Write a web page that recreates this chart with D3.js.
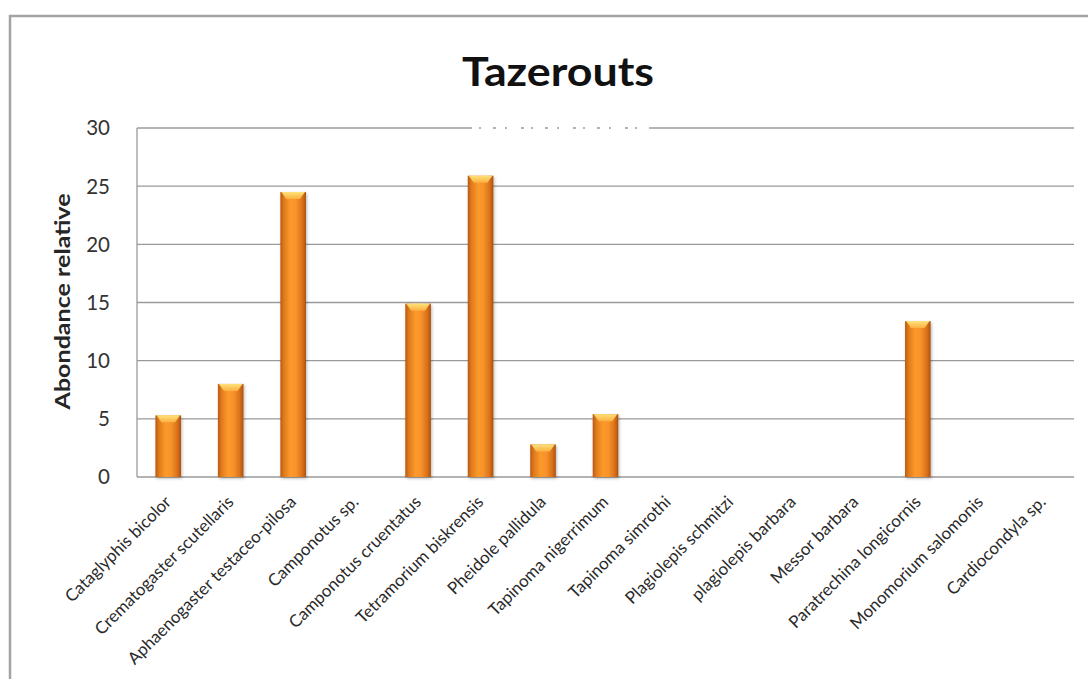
<!DOCTYPE html>
<html>
<head>
<meta charset="utf-8">
<script src="https://cdn.jsdelivr.net/npm/d3@7/dist/d3.min.js"></script>
<style>
  html, body { margin: 0; padding: 0; background: #fff; }
  svg { display: block; }
</style>
</head>
<body>
<svg id="chart" width="1088" height="679"></svg>
<script>
// Species recorded at Tazerouts and their relative abundance (%)
const species = [
  "Cataglyphis bicolor",
  "Crematogaster scutellaris",
  "Aphaenogaster testaceo-pilosa",
  "Camponotus sp.",
  "Camponotus cruentatus",
  "Tetramorium biskrensis",
  "Pheidole pallidula",
  "Tapinoma nigerrimum",
  "Tapinoma simrothi",
  "Plagiolepis schmitzi",
  "plagiolepis barbara",
  "Messor barbara",
  "Paratrechina longicornis",
  "Monomorium salomonis",
  "Cardiocondyla sp."
];
const abundance = [5.3, 8.0, 24.5, 0, 14.9, 25.9, 2.8, 5.4, 0, 0, 0, 0, 13.4, 0, 0];
const yTicks = [0, 5, 10, 15, 20, 25, 30];
const chartTitle = "Tazerouts";
const yTitle = "Abondance relative";

const svg = d3.select("#chart");
const W = 1088, H = 679;
const plot = { left: 137, right: 1074, top: 128, bottom: 477 };
const font = "Lato, 'Open Sans', sans-serif";

// Outer chart frame (top and left edges visible)
svg.append("path")
  .attr("d", `M10,${H} L10,16 L${W},16`)
  .attr("fill", "none")
  .attr("stroke", "#a3a3a3")
  .attr("stroke-width", 2.5);

const x = d3.scaleBand()
  .domain(species)
  .range([plot.left, plot.right])
  .paddingInner(0.59)
  .paddingOuter(0.295);

const y = d3.scaleLinear()
  .domain([0, 30])
  .range([plot.bottom, plot.top]);

// Gradients for the bevelled bars
const defs = svg.append("defs");
const g1 = defs.append("linearGradient").attr("id", "barFill")
  .attr("x1", "0").attr("x2", "1").attr("y1", "0").attr("y2", "0");
[["0%", "#b85a14"], ["14%", "#e07a1c"], ["40%", "#fb9a2c"], ["62%", "#f7922a"], ["86%", "#d9701a"], ["100%", "#a9520f"]]
  .forEach(([o, c]) => g1.append("stop").attr("offset", o).attr("stop-color", c));
const g2 = defs.append("linearGradient").attr("id", "capFill")
  .attr("x1", "0").attr("x2", "0").attr("y1", "0").attr("y2", "1");
[["0%", "#ffe27a"], ["100%", "#fbb040"]]
  .forEach(([o, c]) => g2.append("stop").attr("offset", o).attr("stop-color", c));
const shadow = defs.append("filter").attr("id", "shadow")
  .attr("x", "-30%").attr("y", "-10%").attr("width", "160%").attr("height", "130%");
shadow.append("feDropShadow").attr("dx", 1).attr("dy", 1.5)
  .attr("stdDeviation", 1.6).attr("flood-color", "#000").attr("flood-opacity", 0.28);

// Horizontal gridlines
svg.append("g")
  .selectAll("line")
  .data(yTicks.filter(d => d > 0))
  .join("line")
  .attr("x1", plot.left).attr("x2", plot.right)
  .attr("y1", d => y(d)).attr("y2", d => y(d))
  .attr("stroke", "#9a9a9a")
  .attr("stroke-width", 1.3);

// Faint broken patch on the top gridline
svg.append("line")
  .attr("x1", 472).attr("x2", 650)
  .attr("y1", y(30)).attr("y2", y(30))
  .attr("stroke", "#fff")
  .attr("stroke-width", 2.5)
  .attr("stroke-dasharray", "7,2,12,3,9,2,14,3");

// Axis lines
svg.append("line")
  .attr("x1", plot.left).attr("x2", plot.left)
  .attr("y1", plot.top).attr("y2", plot.bottom)
  .attr("stroke", "#9a9a9a").attr("stroke-width", 1.3);
svg.append("line")
  .attr("x1", plot.left).attr("x2", plot.right)
  .attr("y1", plot.bottom).attr("y2", plot.bottom)
  .attr("stroke", "#9a9a9a").attr("stroke-width", 1.3);

// Bars
const bars = svg.append("g")
  .selectAll("g")
  .data(species.map((s, i) => ({ s, v: abundance[i] })).filter(d => d.v > 0))
  .join("g");

bars.append("rect")
  .attr("x", d => x(d.s))
  .attr("y", d => y(d.v))
  .attr("width", x.bandwidth())
  .attr("height", d => y(0) - y(d.v))
  .attr("fill", "url(#barFill)")
  .attr("filter", "url(#shadow)");

// Bevelled top cap of each bar
bars.append("path")
  .attr("d", d => {
    const x0 = x(d.s), w = x.bandwidth(), t = y(d.v);
    return `M${x0 + 1},${t} L${x0 + w - 1},${t} L${x0 + w - 6},${t + 7} L${x0 + 6},${t + 7} Z`;
  })
  .attr("fill", "url(#capFill)");

// Y tick labels
svg.append("g")
  .selectAll("text")
  .data(yTicks)
  .join("text")
  .attr("x", 110)
  .attr("y", d => y(d))
  .attr("dy", "0.36em")
  .attr("text-anchor", "end")
  .attr("font-family", font)
  .attr("font-size", 20.5)
  .attr("fill", "#333")
  .text(d => d);

// X category labels, rotated
svg.append("g")
  .selectAll("text")
  .data(species)
  .join("text")
  .attr("transform", d => `translate(${x(d) + x.bandwidth() / 2 + 4},${plot.bottom + 26}) rotate(-45)`)
  .attr("text-anchor", "end")
  .attr("font-family", font)
  .attr("font-size", 17)
  .attr("fill", "#2a2a2a")
  .text(d => d);

// Y axis title
svg.append("text")
  .attr("transform", `translate(70,${(plot.top + plot.bottom) / 2 - 1}) rotate(-90)`)
  .attr("text-anchor", "middle")
  .attr("font-family", font)
  .attr("font-weight", "bold")
  .attr("font-size", 21)
  .attr("textLength", 216)
  .attr("lengthAdjust", "spacingAndGlyphs")
  .attr("fill", "#262626")
  .text(yTitle);

// Chart title
svg.append("text")
  .attr("x", 558)
  .attr("y", 86)
  .attr("text-anchor", "middle")
  .attr("font-family", font)
  .attr("font-weight", "bold")
  .attr("font-size", 40)
  .attr("textLength", 192)
  .attr("lengthAdjust", "spacingAndGlyphs")
  .attr("fill", "#111")
  .text(chartTitle);
</script>
</body>
</html>
